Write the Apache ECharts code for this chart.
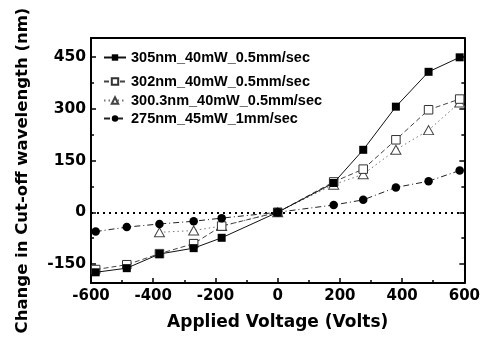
<!DOCTYPE html>
<html><head><meta charset="utf-8">
<script src="https://cdn.jsdelivr.net/npm/echarts@6/dist/echarts.min.js"></script>
<style>html,body{margin:0;padding:0;background:#fff}#c{width:483px;height:343px}</style>
</head><body><div id="c"></div>
<script>
const voltages = [-585, -485, -380, -270, -180, 0, 180, 275, 380, 485, 585];
const s305 = [-174, -162, -121, -104, -74, 0, 85, 181, 306, 407, 449];
const s302 = [-166, -152, -120, -91, -40, 0, 88, 125, 210, 297, 328];
const s300 = [null, null, -58, -53, -40, 0, 80, 110, 181, 238, 318];
const s275 = [-56, -43, -34, -26, -17, 0, 21, 36, 72, 90, 121];
const seriesNames = ['305nm_40mW_0.5mm/sec', '302nm_40mW_0.5mm/sec', '300.3nm_40mW_0.5mm/sec', '275nm_45mW_1mm/sec'];
const yMajorTicks = [-150, 0, 150, 300, 450];
const yMinorTicks = [-75, 75, 225, 375];

function pts(vals) { return voltages.map((v, i) => [v, vals[i]]); }

const tickFont = { fontFamily: 'DejaVu Sans', fontWeight: 'bold', color: '#000' };
const legendText = { fontFamily: 'Liberation Sans', fontWeight: 'bold', fontSize: 14.5, color: '#000' };
const legendTops = [50, 74, 93, 111];
const frameLine = { show: true, onZero: false, lineStyle: { color: '#000', width: 2 } };

const chart = echarts.init(document.getElementById('c'), null, { renderer: 'canvas' });
const yBase = { type: 'value', min: -205, max: 505, splitLine: { show: false } };

chart.setOption({
  animation: false,
  backgroundColor: '#fff',
  grid: { left: 91, right: 17, top: 38, bottom: 60 },
  legend: seriesNames.map((n, i) => ({
    data: [n], left: 103, top: legendTops[i], padding: 0, itemWidth: 22, itemHeight: 8,
    selectedMode: false, textStyle: legendText
  })),
  xAxis: [
    {
      type: 'value', min: -600, max: 600, interval: 200, position: 'bottom',
      axisLine: frameLine,
      axisTick: { inside: true, length: 5, lineStyle: { color: '#000', width: 1.5 } },
      minorTick: { show: true, splitNumber: 2, length: 3, lineStyle: { color: '#000', width: 1.5 } },
      axisLabel: Object.assign({ fontSize: 15, margin: 6 }, tickFont),
      splitLine: { show: false },
      name: 'Applied Voltage (Volts)', nameLocation: 'middle', nameGap: 31,
      nameTextStyle: Object.assign({ fontSize: 17 }, tickFont)
    },
    {
      type: 'value', min: -600, max: 600, position: 'top',
      axisLine: frameLine,
      axisTick: { show: false }, axisLabel: { show: false }, splitLine: { show: false }
    }
  ],
  yAxis: [
    Object.assign({}, yBase, {
      position: 'left',
      axisLine: frameLine,
      axisTick: { show: true, inside: true, length: 5, customValues: yMajorTicks, lineStyle: { color: '#000', width: 1.5 } },
      axisLabel: Object.assign({ fontSize: 15.5, margin: 5, customValues: yMajorTicks }, tickFont),
      name: 'Change in Cut-off wavelength (nm)', nameLocation: 'middle', nameGap: 60,
      nameTextStyle: Object.assign({ fontSize: 16.5, padding: [0, 20, 0, 0] }, tickFont)
    }),
    Object.assign({}, yBase, {
      position: 'left',
      axisLine: { show: false, onZero: false },
      axisTick: { show: true, inside: true, length: 3, customValues: yMinorTicks, lineStyle: { color: '#000', width: 1.5 } },
      axisLabel: { show: false }
    }),
    Object.assign({}, yBase, {
      position: 'right',
      axisLine: frameLine,
      axisTick: { show: true, inside: true, length: 5, customValues: yMajorTicks, lineStyle: { color: '#000', width: 1.5 } },
      axisLabel: { show: false }
    }),
    Object.assign({}, yBase, {
      position: 'right',
      axisLine: { show: false, onZero: false },
      axisTick: { show: true, inside: true, length: 3, customValues: yMinorTicks, lineStyle: { color: '#000', width: 1.5 } },
      axisLabel: { show: false }
    })
  ],
  series: [
    {
      name: seriesNames[2], type: 'line', data: pts(s300), symbol: 'triangle', symbolSize: [10, 9],
      itemStyle: { color: '#fff', borderColor: '#444', borderWidth: 1 },
      lineStyle: { color: '#777', width: 1, type: [1.5, 3] }, z: 2
    },
    {
      name: seriesNames[1], type: 'line', data: pts(s302), symbol: 'rect', symbolSize: 8.5,
      itemStyle: { color: '#fff', borderColor: '#333', borderWidth: 1 },
      lineStyle: { color: '#444', width: 1, type: [5, 3] }, z: 3
    },
    {
      name: seriesNames[0], type: 'line', data: pts(s305), symbol: 'rect', symbolSize: 8,
      itemStyle: { color: '#000' },
      lineStyle: { color: '#111', width: 1, type: 'solid' }, z: 4,
      markLine: {
        silent: true, symbol: ['none', 'none'], label: { show: false },
        lineStyle: { color: '#000', width: 2, type: [2, 4] },
        data: [{ yAxis: 0 }]
      }
    },
    {
      name: seriesNames[3], type: 'line', data: pts(s275), symbol: 'circle', symbolSize: 8.5,
      itemStyle: { color: '#000' },
      lineStyle: { color: '#222', width: 1, type: [6, 3, 1, 3] }, z: 5
    }
  ]
});
</script></body></html>
